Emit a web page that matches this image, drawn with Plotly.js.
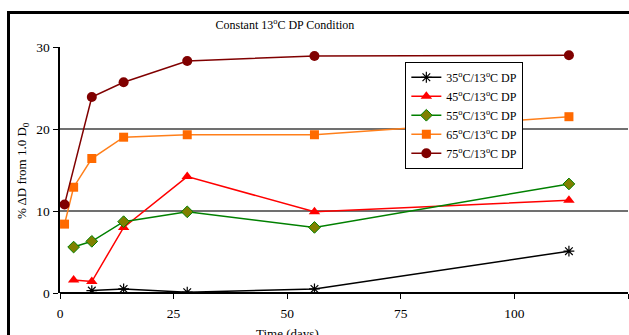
<!DOCTYPE html>
<html>
<head>
<meta charset="utf-8">
<script src="https://cdn.plot.ly/plotly-3.0.1.min.js"></script>
<style>
  html, body { margin: 0; padding: 0; background: #fff; overflow: hidden; width: 629px; height: 335px; }
  #chart { position: absolute; left: 0; top: 0; width: 629px; height: 335px; }
  /* outer chart frame: only its left and top edges fall inside the page */
  #frame { position: absolute; left: 7px; top: 11px; width: 640px; height: 340px;
           border-left: 3px solid #000; border-top: 3px solid #000;
           z-index: 5; pointer-events: none; }
</style>
</head>
<body>
<div id="chart"></div>
<div id="frame"></div>
<script>
// Percent change in D from 1.0 D0 over time, constant 13°C dew point
const days35 = [7, 14, 28, 56, 112];
const vals35 = [0.3, 0.5, 0.1, 0.5, 5.1];

const days45 = [3, 7, 14, 28, 56, 112];
const vals45 = [1.6, 1.4, 8.0, 14.2, 9.9, 11.3];

const days55 = [3, 7, 14, 28, 56, 112];
const vals55 = [5.6, 6.3, 8.7, 9.9, 8.0, 13.3];

const days65 = [1, 3, 7, 14, 28, 56, 112];
const vals65 = [8.4, 12.9, 16.4, 19.0, 19.3, 19.3, 21.5];

const days75 = [1, 7, 14, 28, 56, 112];
const vals75 = [10.8, 23.9, 25.7, 28.3, 28.9, 29.0];

const seriesNames = [
  '35<sup>o</sup>C/13<sup>o</sup>C DP',
  '45<sup>o</sup>C/13<sup>o</sup>C DP',
  '55<sup>o</sup>C/13<sup>o</sup>C DP',
  '65<sup>o</sup>C/13<sup>o</sup>C DP',
  '75<sup>o</sup>C/13<sup>o</sup>C DP'
];
const xTicks = [0, 25, 50, 75, 100, 125];
const yTicks = [0, 10, 20, 30];

const serif = 'Liberation Serif';

const traces = [
  { x: days35, y: vals35, name: seriesNames[0], mode: 'lines+markers',
    line: { color: '#000000', width: 1.5 },
    marker: { symbol: 'asterisk-open', size: 9, line: { color: '#000000', width: 1.2 } } },
  { x: days45, y: vals45, name: seriesNames[1], mode: 'lines+markers',
    line: { color: '#ff0000', width: 1.5 },
    marker: { symbol: 'triangle-up', size: 10, color: '#ff0000' } },
  { x: days55, y: vals55, name: seriesNames[2], mode: 'lines+markers',
    line: { color: '#008000', width: 1.5 },
    marker: { symbol: 'diamond', size: 9, color: '#808000', line: { color: '#008000', width: 1 } } },
  { x: days65, y: vals65, name: seriesNames[3], mode: 'lines+markers',
    line: { color: '#ff7f1a', width: 1.5 },
    marker: { symbol: 'square', size: 9, color: '#ff6a00' } },
  { x: days75, y: vals75, name: seriesNames[4], mode: 'lines+markers',
    line: { color: '#800000', width: 1.5 },
    marker: { symbol: 'circle', size: 10, color: '#800000' } }
];

const layout = {
  width: 629, height: 335,
  margin: { l: 60, r: 1, t: 47, b: 42 },
  paper_bgcolor: '#ffffff',
  plot_bgcolor: '#ffffff',
  font: { family: serif, size: 13, color: '#000' },
  title: {
    text: 'Constant 13<sup>o</sup>C DP Condition',
    font: { family: serif, size: 12, color: '#000' },
    xref: 'container', x: 0.453, xanchor: 'center',
    yref: 'container', y: 0.925, yanchor: 'middle'
  },
  showlegend: true,
  legend: {
    x: 0.608, y: 0.94, xanchor: 'left', yanchor: 'top',
    bgcolor: '#ffffff', bordercolor: '#000000', borderwidth: 1,
    font: { family: serif, size: 12, color: '#000' },
    tracegroupgap: 0, itemwidth: 30
  },
  xaxis: {
    range: [0, 125], tickvals: xTicks, ticktext: xTicks.map(String),
    showgrid: false, zeroline: false,
    showline: false, ticks: 'outside', ticklen: 5, tickwidth: 1, tickcolor: '#000',
    ticklabelstandoff: 3,
    tickfont: { family: serif, size: 13.5, color: '#000' },
    fixedrange: true
  },
  yaxis: {
    range: [0, 30], tickvals: yTicks, ticktext: yTicks.map(String),
    showgrid: true, gridcolor: '#707070', gridwidth: 1.3,
    zeroline: true, zerolinecolor: '#000', zerolinewidth: 2.5,
    showline: true, linecolor: '#000', linewidth: 2.5,
    ticks: 'outside', ticklen: 5, tickwidth: 1, tickcolor: '#000',
    tickfont: { family: serif, size: 13.5, color: '#000' },
    fixedrange: true
  },
  annotations: [
    { text: '% \u0394D from 1.0 D<sub>0</sub>', xref: 'paper', yref: 'paper',
      x: -0.067, y: 0.5, xanchor: 'center', yanchor: 'middle', textangle: -90,
      showarrow: false, font: { family: serif, size: 13, color: '#000' } },
    { text: 'Time (days)', xref: 'paper', yref: 'paper',
      x: 0.4, y: -0.125, xanchor: 'center', yanchor: 'top',
      showarrow: false, font: { family: serif, size: 13, color: '#000' } }
  ]
};

Plotly.newPlot('chart', traces, layout, { displayModeBar: false, staticPlot: true });
</script>
</body>
</html>
